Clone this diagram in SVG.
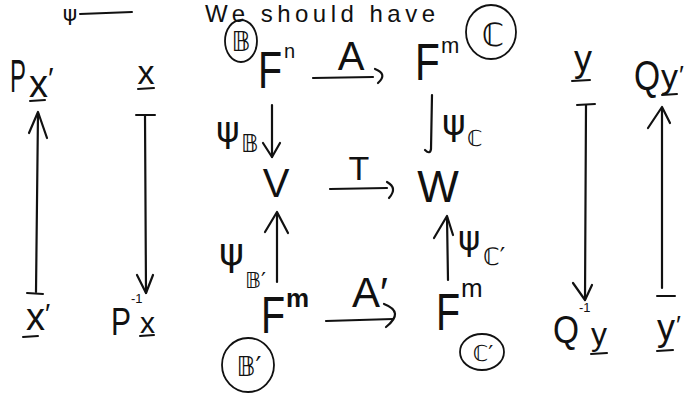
<svg xmlns="http://www.w3.org/2000/svg" width="691" height="393" viewBox="0 0 691 393">
<style>
text{font-family:"Liberation Sans","DejaVu Sans",sans-serif;fill:#111;text-anchor:middle}
text.l{text-anchor:start}
.s{font-family:"DejaVu Sans","Noto Sans",sans-serif}
.ln{stroke:#111;stroke-width:2.2;fill:none;stroke-linecap:round;stroke-linejoin:round}
.ul{stroke:#111;stroke-width:2;fill:none;stroke-linecap:round}
.c{stroke:#111;stroke-width:1.8;fill:none}
</style>
<rect width="691" height="393" fill="#fff"/>
<g id="header">
<text x="70" y="21" font-size="22" class="s">ψ</text>
<line class="ul" x1="80" y1="14" x2="132" y2="12"/>
<text x="320" y="22" font-size="24" textLength="230">We should have</text>
</g>
<g id="connectors">
<path class="ln" d="M36,292 L38,113"/><path class="ln" d="M29,133 L38,112 L47,138"/><path class="ul" d="M27,293 L43,294"/>
<path class="ul" d="M136,115 L155,115"/><path class="ln" d="M145,115 L146,293"/><path class="ln" d="M137,275 L146,293 L153,275"/>
<path class="ln" d="M313,78 L373,77"/><path class="ln" d="M375,69 Q388,74 378,83"/>
<path class="ln" d="M272,105 L272,157"/><path class="ln" d="M263,143 L272,157 L280,143"/>
<path class="ln" d="M330,189 L387,188"/><path class="ln" d="M387,182 Q398,188 389,198"/>
<path class="ln" d="M432,95 L431,149 Q430,155 425,150"/>
<path class="ln" d="M277,282 L277,213"/><path class="ln" d="M265,232 L277,212 L288,233"/>
<path class="ln" d="M326,321 L393,319"/><path class="ln" d="M384,304 Q405,312 386,327"/>
<path class="ln" d="M448,280 L447,217"/><path class="ln" d="M434,238 L447,216 L453,235"/>
<path class="ul" d="M577,105 L595,104"/><path class="ln" d="M586,105 L585,300"/><path class="ln" d="M573,283 L585,300 L592,285"/>
<path class="ln" d="M662,288 L662,108"/><path class="ln" d="M648,128 L662,107 L670,123"/><path class="ul" d="M657,296 L675,296"/>
</g>
<g id="Px1">
<text class="l" transform="translate(10,92) scale(0.52,1)" font-size="46">P</text>
<text class="l" x="29" y="97" font-size="38">x</text><text class="l" x="48" y="88" font-size="30">′</text>
<line class="ul" x1="30" y1="101" x2="45" y2="100"/>
</g>
<g id="x1">
<text class="l" x="26" y="330" font-size="38">x</text><text class="l" x="45" y="323" font-size="28">′</text>
<line class="ul" x1="23" y1="337" x2="38" y2="336"/>
</g>
<g id="x">
<text x="146" y="84" font-size="34">x</text>
<line class="ul" x1="138" y1="89" x2="154" y2="88"/>
</g>
<g id="Pinvx">
<text class="l" transform="translate(111,335) scale(0.79,1)" font-size="38">P</text>
<text class="l" x="131" y="303" font-size="13">-1</text><text class="l" x="140" y="333" font-size="30">x</text>
<line class="ul" x1="140" y1="336" x2="154" y2="335"/>
</g>
<g id="B">
<ellipse class="c" cx="241" cy="41" rx="16" ry="21"/>
<text x="241" y="51" font-size="26" class="s">𝔹</text>
</g>
<g id="Fn">
<text class="l" transform="translate(258,88) scale(0.76,1)" font-size="52">F</text>
<text class="l" x="284" y="58" font-size="20">n</text>
</g>
<g id="A"><text x="351" y="70" font-size="40">A</text></g>
<g id="Fm_top">
<text class="l" transform="translate(415,80) scale(0.78,1)" font-size="52">F</text>
<text class="l" x="441" y="53" font-size="22">m</text>
</g>
<g id="C">
<ellipse class="c" cx="491" cy="32" rx="25" ry="27"/>
<text x="493" y="46" font-size="32" class="s">ℂ</text>
</g>
<g id="psiB">
<text class="l s" x="216" y="142" font-size="36">ψ</text><text class="l s" x="241" y="152" font-size="24">𝔹</text>
</g>
<g id="V"><text x="276" y="197" font-size="40">V</text></g>
<g id="T"><text x="359" y="180" font-size="34">T</text></g>
<g id="W"><text x="438" y="202" font-size="44">W</text></g>
<g id="psiC">
<text class="l s" x="442" y="135" font-size="36">ψ</text><text class="l s" x="467" y="146" font-size="22">ℂ</text>
</g>
<g id="psiB1">
<text class="l s" x="219" y="265" font-size="38">ψ</text><text class="l s" x="245" y="288" font-size="22">𝔹′</text>
</g>
<g id="Fm_bl">
<text class="l" transform="translate(261,333) scale(0.76,1)" font-size="52">F</text>
<text class="l" x="286" y="307" font-size="26" font-weight="bold">m</text>
</g>
<g id="A1"><text x="370" y="307" font-size="42">A′</text></g>
<g id="psiC1">
<text class="l s" x="458" y="250" font-size="34">ψ</text><text class="l s" x="483" y="265" font-size="24">ℂ′</text>
</g>
<g id="Fm_br">
<text class="l" transform="translate(436,330) scale(0.76,1)" font-size="52">F</text>
<text class="l" x="461" y="297" font-size="26">m</text>
</g>
<g id="C1">
<ellipse class="c" cx="482" cy="352" rx="22" ry="18"/>
<text x="483" y="361" font-size="22" class="s">ℂ′</text>
</g>
<g id="B1">
<ellipse class="c" cx="248" cy="365" rx="26" ry="27"/>
<text x="249" y="376" font-size="26" class="s">𝔹′</text>
</g>
<g id="y">
<text x="583" y="71" font-size="36">y</text>
<line class="ul" x1="572" y1="81" x2="590" y2="80"/>
</g>
<g id="Qinvy">
<text class="l" transform="translate(553,343) scale(0.88,1)" font-size="38">Q</text>
<text class="l" x="579" y="312" font-size="13">-1</text><text class="l" x="591" y="345" font-size="32">y</text>
<line class="ul" x1="591" y1="354" x2="607" y2="353"/>
</g>
<g id="Qy1">
<text class="l" transform="translate(634,90) scale(0.8,1)" font-size="42">Q</text>
<text class="l" x="661" y="88" font-size="34">y</text><text class="l" x="679" y="84" font-size="26">′</text>
<line class="ul" x1="662" y1="95" x2="677" y2="94"/>
</g>
<g id="y1">
<text class="l" x="657" y="340" font-size="36">y</text><text class="l" x="676" y="334" font-size="26">′</text>
<line class="ul" x1="657" y1="351" x2="673" y2="350"/>
</g>
</svg>
